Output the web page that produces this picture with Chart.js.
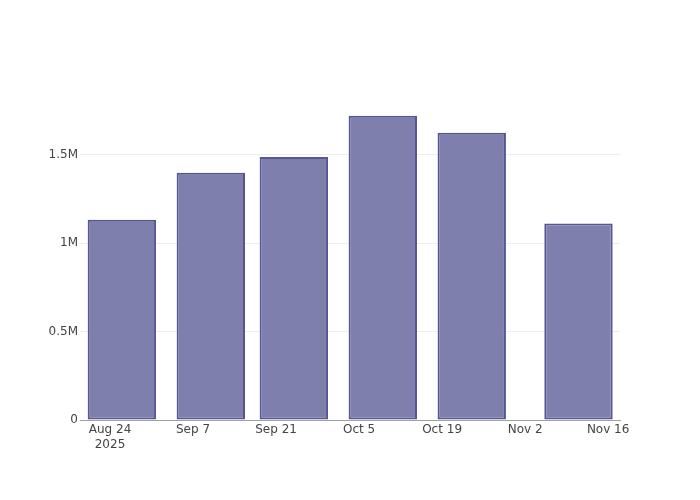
<!DOCTYPE html>
<html>
<head>
<meta charset="utf-8">
<script src="https://cdn.jsdelivr.net/npm/chart.js@4/dist/chart.umd.min.js"></script>
<style>
html,body{margin:0;padding:0;background:#fff;}
#wrap{width:700px;height:500px;}
</style>
</head>
<body>
<div id="wrap"><canvas id="c" width="700" height="500"></canvas></div>
<script>
// Data
const barDates = ["2025-08-26", "2025-09-10", "2025-09-24", "2025-10-09", "2025-10-24", "2025-11-11"];
const barValues = [1133000, 1398000, 1487000, 1721000, 1625000, 1111000];
const xTickDates = ["2025-08-24", "2025-09-07", "2025-09-21", "2025-10-05", "2025-10-19", "2025-11-02", "2025-11-16"];
const xTickLabels = [["Aug 24", "2025"], "Sep 7", "Sep 21", "Oct 5", "Oct 19", "Nov 2", "Nov 16"];
const yTickValues = [0, 500000, 1000000, 1500000];
const yTickLabels = ["0", "0.5M", "1M", "1.5M"];

const origin = Date.UTC(2025, 7, 24);
function dayNum(s) {
  const p = s.split("-").map(Number);
  return (Date.UTC(p[0], p[1] - 1, p[2]) - origin) / 86400000;
}
const xTickNums = xTickDates.map(dayNum);
const points = barDates.map((d, i) => ({ x: dayNum(d), y: barValues[i] }));

Chart.defaults.font.family = "'DejaVu Sans', sans-serif";
Chart.defaults.font.size = 12;
Chart.defaults.color = "#444";

new Chart(document.getElementById("c"), {
  type: "bar",
  data: {
    datasets: [{
      data: points,
      backgroundColor: "rgb(127,127,174)",
      borderColor: "#565693",
      borderWidth: 2,
      borderSkipped: false,
      barPercentage: 0.824,
      categoryPercentage: 1
    }]
  },
  options: {
    responsive: false,
    animation: false,
    layout: { padding: { top: 100, right: 80, left: 0, bottom: 0 } },
    plugins: { legend: { display: false }, tooltip: { enabled: false } },
    scales: {
      x: {
        type: "linear",
        offset: false,
        min: -5.06,
        max: 86.0,
        grid: { display: false, drawTicks: false },
        border: { display: true, color: "#a0a0a0", width: 1 },
        afterBuildTicks: (s) => { s.ticks = xTickNums.map(v => ({ value: v })); },
        afterFit: (s) => { s.height = 80; },
        ticks: {
          padding: 3,
          maxRotation: 0,
          autoSkip: false,
          color: "#444",
          callback: (v) => { const i = xTickNums.indexOf(v); return i >= 0 ? xTickLabels[i] : ""; }
        }
      },
      y: {
        min: 0,
        max: 1810000,
        grid: { color: "#eeeeee", drawTicks: false },
        border: { display: false },
        afterBuildTicks: (s) => { s.ticks = yTickValues.map(v => ({ value: v })); },
        afterFit: (s) => { s.width = 80; },
        ticks: {
          padding: 2,
          color: "#444",
          callback: (v) => { const i = yTickValues.indexOf(v); return i >= 0 ? yTickLabels[i] : ""; }
        }
      }
    }
  }
});
</script>
</body>
</html>
